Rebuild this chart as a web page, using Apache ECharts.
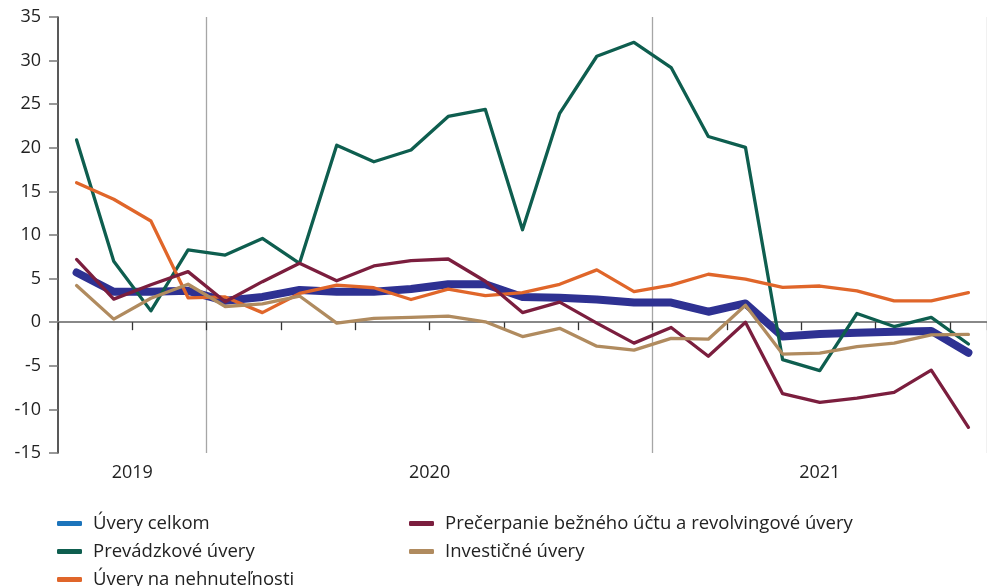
<!DOCTYPE html>
<html>
<head>
<meta charset="utf-8">
<script src="https://cdn.jsdelivr.net/npm/echarts@6/dist/echarts.min.js"></script>
<style>
  html, body { margin: 0; padding: 0; background: #fff; }
  #main { width: 987px; height: 586px; }
</style>
</head>
<body>
<div id="main"></div>
<script>
// mesiace 9/2019 - 9/2021
var months = ['9/2019','10/2019','11/2019','12/2019',
  '1/2020','2/2020','3/2020','4/2020','5/2020','6/2020','7/2020','8/2020','9/2020','10/2020','11/2020','12/2020',
  '1/2021','2/2021','3/2021','4/2021','5/2021','6/2021','7/2021','8/2021','9/2021']
var years = ['2019', '2020', '2021']
var yearPos = [1.5, 9.5, 20]   // stred skupiny mesiacov
var yearBreaks = [4, 16]       // prvy mesiac noveho roka

var celkom = [5.7,3.5,3.5,3.6,2.45,2.9,3.7,3.5,3.5,3.8,4.35,4.35,2.9,2.8,2.6,2.25,2.25,1.2,2.15,-1.65,-1.35,-1.2,-1.1,-1.0,-3.5]
var prevadzkove = [20.9,7.0,1.3,8.3,7.7,9.6,6.75,20.3,18.4,19.75,23.6,24.4,10.6,23.95,30.5,32.1,29.2,21.3,20.05,-4.3,-5.55,1.0,-0.5,0.55,-2.5]
var nehnutelnosti = [16.0,14.1,11.6,2.8,2.9,1.1,3.3,4.25,3.95,2.6,3.8,3.05,3.4,4.35,6.0,3.5,4.25,5.5,4.95,4.0,4.15,3.6,2.45,2.45,3.4]
var precerpanie = [7.2,2.65,4.3,5.8,2.35,4.65,6.75,4.75,6.45,7.05,7.25,4.7,1.1,2.3,-0.1,-2.4,-0.6,-3.9,0.0,-8.2,-9.2,-8.7,-8.05,-5.5,-12.05]
var investicne = [4.2,0.35,2.75,4.35,1.8,2.1,3.0,-0.1,0.45,0.55,0.7,0.05,-1.65,-0.7,-2.75,-3.2,-1.85,-1.95,1.95,-3.65,-3.55,-2.8,-2.4,-1.45,-1.4]

var names = ['Úvery celkom', 'Prevádzkové úvery', 'Úvery na nehnuteľnosti',
  'Prečerpanie bežného účtu a revolvingové úvery', 'Investičné úvery']
var colors = ['#2e3192', '#0e5e4f', '#e0662a', '#7b1e3e', '#b08b5f']
var legendColors = ['#1c74bb', '#0e5e4f', '#e0662a', '#7b1e3e', '#b08b5f']
var values = [celkom, prevadzkove, nehnutelnosti, precerpanie, investicne]
var widths = [8, 3.3, 3.3, 3.3, 3.3]

var font = '"Open Sans", Lato, sans-serif'
var myChart = echarts.init(document.getElementById('main'))

var series = []
for (var i = 0; i < names.length; i++) {
  series.push({
    name: names[i],
    type: 'line',
    data: values[i],
    symbol: 'none',
    lineStyle: { color: colors[i], width: widths[i], cap: 'round', join: 'round' },
    itemStyle: { color: colors[i] },
    z: i === 0 ? 2 : 3
  })
}

function legendData (idx) {
  var out = []
  for (var k = 0; k < idx.length; k++) {
    out.push({ name: names[idx[k]], itemStyle: { color: legendColors[idx[k]] } })
  }
  return out
}

var legendBase = {
  orient: 'vertical',
  icon: 'roundRect',
  itemWidth: 25,
  itemHeight: 5,
  itemGap: 9,
  padding: 0,
  height: 120,
  selectedMode: false,
  textStyle: { fontFamily: font, fontSize: 18.5, color: '#222', lineHeight: 18, padding: [0, 0, 0, 6] }
}

myChart.setOption({
  animation: false,
  textStyle: { fontFamily: font },
  grid: [
    { left: 58, top: 17, width: 937.5, height: 436 },
    { left: 58, top: 453, width: 937.5, height: 1 }
  ],
  legend: [
    Object.assign({}, legendBase, { left: 57, top: 514, data: legendData([0, 1, 2]) }),
    Object.assign({}, legendBase, { left: 409, top: 514, data: legendData([3, 4]) })
  ],
  xAxis: [
    {
      type: 'category',
      gridIndex: 0,
      data: months,
      boundaryGap: true,
      axisLine: { onZero: true, lineStyle: { color: '#888', width: 2 } },
      axisTick: { show: true, length: 8, lineStyle: { color: '#333', width: 1.3 } },
      axisLabel: { show: false },
      splitLine: {
        show: true,
        interval: function (index) { return yearBreaks.indexOf(index) >= 0 },
        lineStyle: { color: '#a6a6a6', width: 1.3 }
      }
    },
    {
      type: 'value',
      gridIndex: 1,
      min: -0.5,
      max: 24.5,
      axisLine: { show: false },
      axisTick: { show: false },
      splitLine: { show: false },
      axisLabel: {
        customValues: yearPos,
        margin: 10,
        fontSize: 18,
        color: '#222',
        fontFamily: font,
        formatter: function (v) { return years[yearPos.indexOf(v)] }
      }
    }
  ],
  yAxis: [
    {
      type: 'value',
      gridIndex: 0,
      min: -15,
      max: 35,
      interval: 5,
      axisLine: { show: true, lineStyle: { color: '#222', width: 1.5 } },
      axisTick: { show: true, length: 9, lineStyle: { color: '#777', width: 1.5 } },
      axisLabel: { margin: 17, fontSize: 18, color: '#222', fontFamily: font },
      splitLine: { show: false }
    },
    {
      type: 'value',
      gridIndex: 1,
      show: false
    }
  ],
  series: series
})
</script>
</body>
</html>
